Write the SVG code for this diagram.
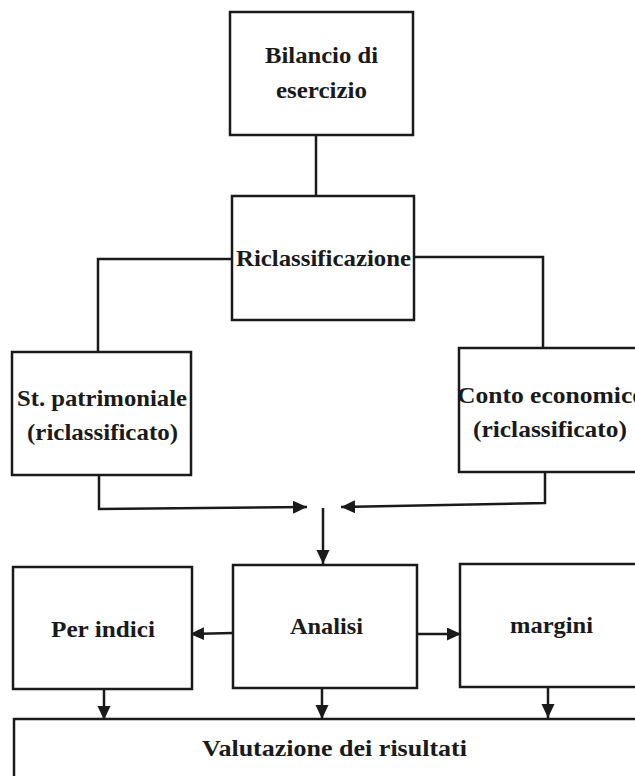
<svg xmlns="http://www.w3.org/2000/svg" width="635" height="776" viewBox="0 0 635 776">
<style>
.box{fill:#fff;stroke:#1a1a1a;stroke-width:2.5}
.t{font-family:"Liberation Serif","Times New Roman",serif;font-size:24px;font-weight:bold;fill:#1a1a1a}
.c{fill:none;stroke:#1a1a1a;stroke-width:2.5}
</style>
<defs>
<marker id="ah" markerUnits="userSpaceOnUse" markerWidth="15" markerHeight="14" refX="14" refY="6.5" orient="auto">
<path d="M0,0 L14,6.5 L0,13 z" fill="#1a1a1a"/>
</marker>
</defs>
<rect width="635" height="776" fill="#fff"/>
<g id="connectors">
<line class="c" x1="316" y1="135" x2="316" y2="196"/>
<polyline class="c" points="232,259 98,259 98,352"/>
<polyline class="c" points="414,257 543,257 543,348"/>
<polyline class="c" points="99,475 99,509 307,507" marker-end="url(#ah)"/>
<polyline class="c" points="545,472 545,503 341,507" marker-end="url(#ah)"/>
<line class="c" x1="323" y1="508" x2="323" y2="564" marker-end="url(#ah)"/>
<line class="c" x1="233" y1="633" x2="190" y2="634" marker-end="url(#ah)"/>
<line class="c" x1="417" y1="634" x2="461" y2="634" marker-end="url(#ah)"/>
<line class="c" x1="104" y1="689" x2="104" y2="720" marker-end="url(#ah)"/>
<line class="c" x1="322" y1="688" x2="322" y2="719" marker-end="url(#ah)"/>
<line class="c" x1="548" y1="687" x2="548" y2="718" marker-end="url(#ah)"/>
</g>
<g id="bilancio">
<rect class="box" x="230" y="12" width="183" height="123"/>
<text class="t" x="265" y="63" textLength="113" lengthAdjust="spacingAndGlyphs">Bilancio di</text>
<text class="t" x="276" y="98" textLength="91" lengthAdjust="spacingAndGlyphs">esercizio</text>
</g>
<g id="riclassificazione">
<rect class="box" x="232" y="196" width="182" height="124"/>
<text class="t" x="236" y="266" textLength="175" lengthAdjust="spacingAndGlyphs">Riclassificazione</text>
</g>
<g id="stato-patrimoniale">
<rect class="box" x="12" y="352" width="179" height="123"/>
<text class="t" x="17" y="406" textLength="170" lengthAdjust="spacingAndGlyphs">St. patrimoniale</text>
<text class="t" x="27" y="440" textLength="151" lengthAdjust="spacingAndGlyphs">(riclassificato)</text>
</g>
<g id="conto-economico">
<rect class="box" x="459" y="348" width="190" height="124"/>
<text class="t" x="457" y="403" textLength="188" lengthAdjust="spacingAndGlyphs">Conto economico</text>
<text class="t" x="473" y="437" textLength="154" lengthAdjust="spacingAndGlyphs">(riclassificato)</text>
</g>
<g id="per-indici">
<rect class="box" x="13" y="567" width="179" height="122"/>
<text class="t" x="51" y="637" textLength="104" lengthAdjust="spacingAndGlyphs">Per indici</text>
</g>
<g id="analisi">
<rect class="box" x="233" y="565" width="184" height="123"/>
<text class="t" x="290" y="634" textLength="73" lengthAdjust="spacingAndGlyphs">Analisi</text>
</g>
<g id="margini">
<rect class="box" x="460" y="564" width="190" height="123"/>
<text class="t" x="510" y="633" textLength="83" lengthAdjust="spacingAndGlyphs">margini</text>
</g>
<g id="valutazione">
<rect class="box" x="14" y="719" width="640" height="80"/>
<text class="t" x="202" y="756" textLength="265" lengthAdjust="spacingAndGlyphs">Valutazione dei risultati</text>
</g>
</svg>
